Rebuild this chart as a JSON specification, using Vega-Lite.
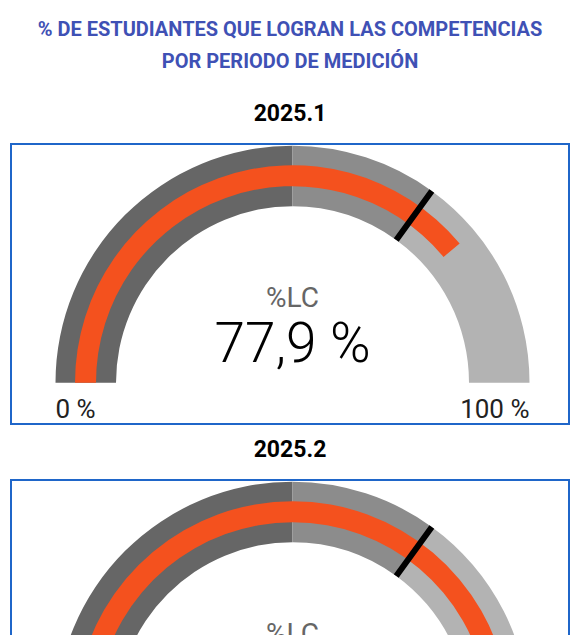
{
  "$schema": "https://vega.github.io/schema/vega-lite/v6.json",
  "background": "white",
  "padding": {"left": 10, "right": 3, "top": 20, "bottom": 0},
  "title": {
    "text": ["% DE ESTUDIANTES QUE LOGRAN LAS COMPETENCIAS", "POR PERIODO DE MEDICIÓN"],
    "font": "Roboto",
    "fontSize": 20,
    "fontWeight": "bold",
    "color": "#3F51B5",
    "anchor": "middle",
    "lineHeight": 32,
    "offset": 30
  },
  "datasets": {
    "bandas": [
      {"periodo": "2025.1", "rango": "Bajo", "desde": 0, "hasta": 50},
      {"periodo": "2025.1", "rango": "Medio", "desde": 50, "hasta": 70},
      {"periodo": "2025.1", "rango": "Alto", "desde": 70, "hasta": 100},
      {"periodo": "2025.2", "rango": "Bajo", "desde": 0, "hasta": 50},
      {"periodo": "2025.2", "rango": "Medio", "desde": 50, "hasta": 70},
      {"periodo": "2025.2", "rango": "Alto", "desde": 70, "hasta": 100}
    ],
    "valores": [
      {"periodo": "2025.1", "lc": 77.9, "meta": 70, "etiqueta": "77,9 %"},
      {"periodo": "2025.2", "lc": 89.0, "meta": 70, "etiqueta": "89,0 %"}
    ]
  },
  "spacing": 13,
  "vconcat": [
    {
      "title": {"text": "2025.1", "font": "Roboto", "fontSize": 23, "fontWeight": "bold", "color": "#000000", "baseline": "alphabetic", "offset": 0, "anchor": "middle"},
      "width": 558,
      "height": 280,
      "encoding": {
        "x": {"datum": 0, "type": "quantitative", "scale": {"domain": [-1.1878, 1.1667], "nice": false, "zero": false}, "axis": null},
        "y": {"datum": 0, "type": "quantitative", "scale": {"domain": [-0.1743, 1.0072], "nice": false, "zero": false}, "axis": null}
      },
      "layer": [
        {
          "data": {"name": "bandas"},
          "transform": [{"filter": "datum.periodo == '2025.1'"}],
          "mark": {"type": "arc", "radius": 237, "radius2": 176.5},
          "encoding": {
            "theta": {"field": "desde", "type": "quantitative", "stack": null, "scale": {"domain": [0, 100], "range": [-1.5708, 1.5708]}},
            "theta2": {"field": "hasta"},
            "color": {"field": "rango", "type": "nominal", "scale": {"domain": ["Bajo", "Medio", "Alto"], "range": ["#666666", "#8c8c8c", "#b3b3b3"]}, "legend": null}
          }
        },
        {
          "data": {"name": "valores"},
          "transform": [{"filter": "datum.periodo == '2025.1'"}],
          "mark": {"type": "arc", "radius": 217.5, "radius2": 196.5, "color": "#F4511E"},
          "encoding": {
            "theta": {"field": "lc", "type": "quantitative", "stack": null, "scale": {"domain": [0, 100], "range": [-1.5708, 1.5708]}},
            "theta2": {"datum": 0}
          }
        },
        {
          "data": {"name": "valores"},
          "transform": [{"filter": "datum.periodo == '2025.1'"}],
          "mark": {"type": "arc", "radius": 237, "radius2": 176.5, "fill": null, "stroke": "#000000", "strokeWidth": 6, "strokeJoin": "bevel"},
          "encoding": {
            "theta": {"field": "meta", "type": "quantitative", "stack": null, "scale": {"domain": [0, 100], "range": [-1.5708, 1.5708]}},
            "theta2": {"field": "meta"}
          }
        },
        {
          "data": {"name": "valores"},
          "transform": [{"filter": "datum.periodo == '2025.1'"}],
          "mark": {"type": "text", "text": "%LC", "font": "Roboto", "fontSize": 28, "color": "#666666", "align": "center", "baseline": "alphabetic"},
          "encoding": {"y": {"datum": 0.321, "type": "quantitative"}}
        },
        {
          "data": {"name": "valores"},
          "transform": [{"filter": "datum.periodo == '2025.1'"}],
          "mark": {"type": "text", "font": "Roboto", "fontSize": 55, "fontWeight": 300, "color": "#000000", "align": "center", "baseline": "alphabetic"},
          "encoding": {"y": {"datum": 0.0886, "type": "quantitative"}, "text": {"field": "etiqueta"}}
        },
        {
          "data": {"name": "valores"},
          "transform": [{"filter": "datum.periodo == '2025.1'"}],
          "mark": {"type": "text", "text": "0 %", "font": "Roboto", "fontSize": 26, "color": "#222222", "align": "left", "baseline": "alphabetic"},
          "encoding": {"x": {"datum": -1, "type": "quantitative"}, "y": {"datum": -0.15, "type": "quantitative"}}
        },
        {
          "data": {"name": "valores"},
          "transform": [{"filter": "datum.periodo == '2025.1'"}],
          "mark": {"type": "text", "text": "100 %", "font": "Roboto", "fontSize": 26, "color": "#222222", "align": "right", "baseline": "alphabetic"},
          "encoding": {"x": {"datum": 1, "type": "quantitative"}, "y": {"datum": -0.15, "type": "quantitative"}}
        }
      ]
    },
    {
      "title": {"text": "2025.2", "font": "Roboto", "fontSize": 23, "fontWeight": "bold", "color": "#000000", "baseline": "alphabetic", "offset": 0, "anchor": "middle"},
      "width": 558,
      "height": 160,
      "encoding": {
        "x": {"datum": 0, "type": "quantitative", "scale": {"domain": [-1.1878, 1.1667], "nice": false, "zero": false}, "axis": null},
        "y": {"datum": 0, "type": "quantitative", "scale": {"domain": [0.3321, 1.0072], "nice": false, "zero": false}, "axis": null}
      },
      "layer": [
        {
          "data": {"name": "bandas"},
          "transform": [{"filter": "datum.periodo == '2025.2'"}],
          "mark": {"type": "arc", "radius": 237, "radius2": 176.5, "clip": true},
          "encoding": {
            "theta": {"field": "desde", "type": "quantitative", "stack": null, "scale": {"domain": [0, 100], "range": [-1.5708, 1.5708]}},
            "theta2": {"field": "hasta"},
            "color": {"field": "rango", "type": "nominal", "scale": {"domain": ["Bajo", "Medio", "Alto"], "range": ["#666666", "#8c8c8c", "#b3b3b3"]}, "legend": null}
          }
        },
        {
          "data": {"name": "valores"},
          "transform": [{"filter": "datum.periodo == '2025.2'"}],
          "mark": {"type": "arc", "radius": 217.5, "radius2": 196.5, "color": "#F4511E", "clip": true},
          "encoding": {
            "theta": {"field": "lc", "type": "quantitative", "stack": null, "scale": {"domain": [0, 100], "range": [-1.5708, 1.5708]}},
            "theta2": {"datum": 0}
          }
        },
        {
          "data": {"name": "valores"},
          "transform": [{"filter": "datum.periodo == '2025.2'"}],
          "mark": {"type": "arc", "radius": 237, "radius2": 176.5, "fill": null, "stroke": "#000000", "strokeWidth": 6, "strokeJoin": "bevel", "clip": true},
          "encoding": {
            "theta": {"field": "meta", "type": "quantitative", "stack": null, "scale": {"domain": [0, 100], "range": [-1.5708, 1.5708]}},
            "theta2": {"field": "meta"}
          }
        },
        {
          "data": {"name": "valores"},
          "transform": [{"filter": "datum.periodo == '2025.2'"}],
          "mark": {"type": "text", "text": "%LC", "font": "Roboto", "fontSize": 28, "color": "#666666", "align": "center", "baseline": "alphabetic", "clip": true},
          "encoding": {"y": {"datum": 0.321, "type": "quantitative"}}
        }
      ]
    }
  ],
  "config": {
    "view": {"stroke": "#1F66C9", "strokeWidth": 2}
  }
}
